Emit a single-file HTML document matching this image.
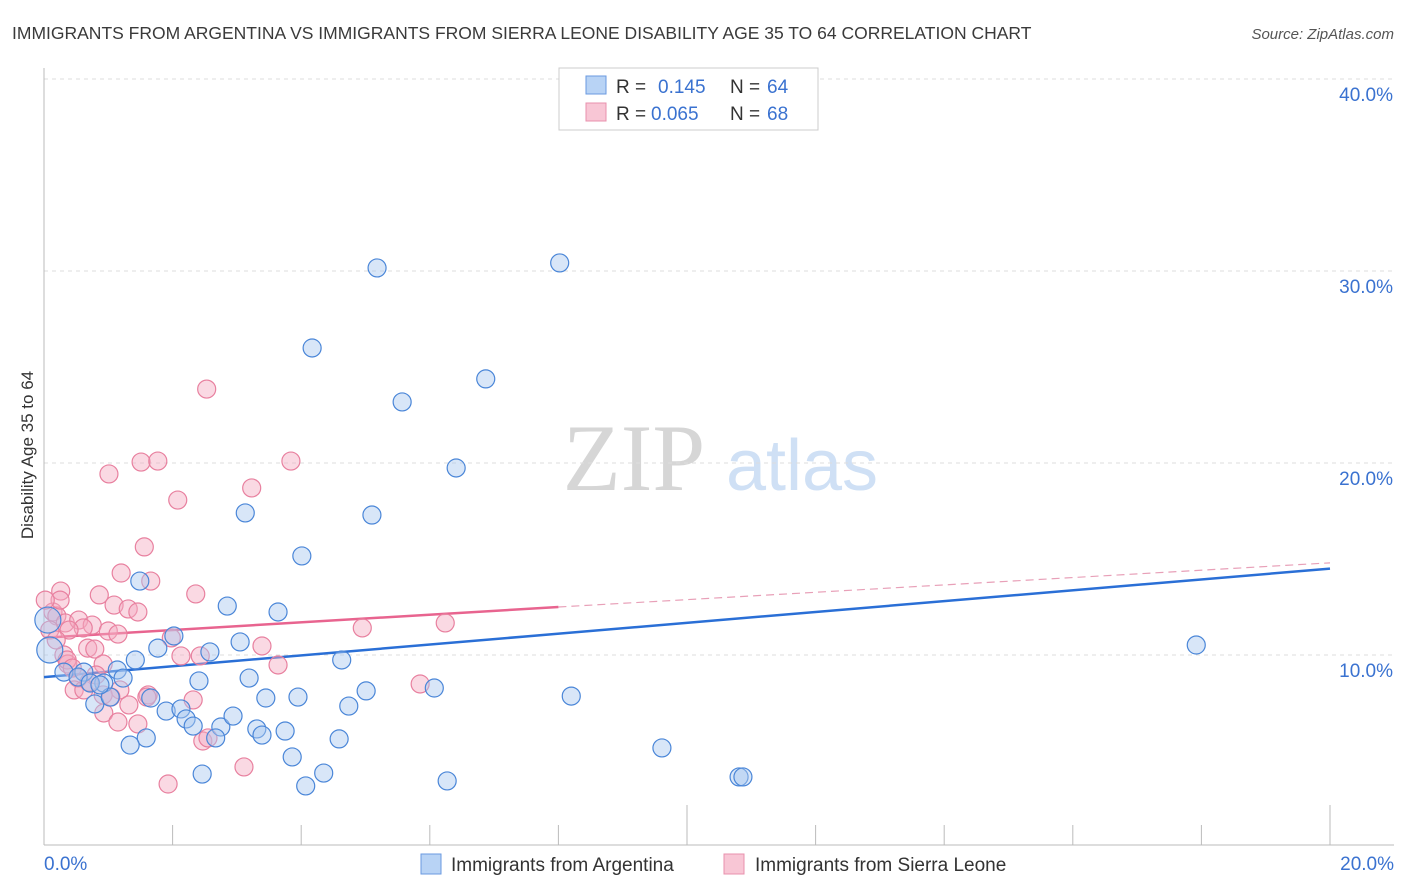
<!DOCTYPE html>
<html><head><meta charset="utf-8"><style>
body{margin:0;background:#fff;font-family:"Liberation Sans",sans-serif;}
svg{display:block}
</style></head><body>
<svg id="chart" width="1406" height="892" xmlns="http://www.w3.org/2000/svg" font-family="Liberation Sans, sans-serif">
<text x="12" y="39" font-size="17.5" fill="#3a3a3a">IMMIGRANTS FROM ARGENTINA VS IMMIGRANTS FROM SIERRA LEONE DISABILITY AGE 35 TO 64 CORRELATION CHART</text>
<text x="1394" y="39" font-size="15" fill="#555" text-anchor="end" font-style="italic">Source: ZipAtlas.com</text>
<text transform="translate(33,455) rotate(-90)" font-size="17" fill="#333" text-anchor="middle">Disability Age 35 to 64</text>
<g>
<text x="634" y="490" font-size="95" fill="#d6d6d6" text-anchor="middle" font-family="Liberation Serif, serif">ZIP</text>
<text x="802" y="490" font-size="72" fill="#cfe0f5" text-anchor="middle">atlas</text>
</g>
<g id="grid"></g>
<g id="axes"></g>
<g id="lines"></g>
<g id="points"></g>
<g>
<rect x="559" y="68" width="259" height="62" fill="#fff" stroke="#ccc"/>
<rect x="586" y="76" width="20" height="18" fill="#b8d3f5" stroke="#6a9ae0"/>
<text x="616" y="93" font-size="19" fill="#333">R = </text><text x="658" y="93" font-size="19" fill="#3a72d0">0.145</text>
<text x="730" y="93" font-size="19" fill="#333">N = </text><text x="767" y="93" font-size="19" fill="#3a72d0">64</text>
<rect x="586" y="103" width="20" height="18" fill="#f8c6d5" stroke="#e890ad"/>
<text x="616" y="120" font-size="19" fill="#333">R = </text><text x="651" y="120" font-size="19" fill="#3a72d0">0.065</text>
<text x="730" y="120" font-size="19" fill="#333">N = </text><text x="767" y="120" font-size="19" fill="#3a72d0">68</text>
</g>
<g>
<rect x="421" y="854" width="20" height="20" fill="#b8d3f5" stroke="#6a9ae0"/>
<text x="451" y="871" font-size="19" fill="#333">Immigrants from Argentina</text>
<rect x="724" y="854" width="20" height="20" fill="#f8c6d5" stroke="#e890ad"/>
<text x="755" y="871" font-size="19" fill="#333">Immigrants from Sierra Leone</text>
</g>
</svg>
<script>
const blueX=[5.18,8.02,4.17,6.87,5.57,6.41,3.13,5.10,4.01,1.49,2.85,3.64,2.02,3.05,1.77,2.58,17.92,4.63,1.42,1.14,0.31,0.62,0.53,0.93,1.23,3.19,2.41,5.01,6.07,8.20,3.45,3.95,0.79,1.03,1.66,1.90,2.13,4.74,2.21,2.32,2.75,2.94,3.31,3.75,3.39,2.67,1.59,1.34,4.59,9.61,3.86,2.46,4.35,6.27,4.07,10.81,10.87,0.06,0.09,0.72,0.87];
const blueY=[30.16,30.42,25.99,24.38,23.18,19.74,17.40,17.29,15.16,13.85,12.55,12.24,10.99,10.68,10.36,10.16,10.52,9.74,9.74,9.22,9.11,9.11,8.85,8.54,8.80,8.80,8.65,8.13,8.28,7.86,7.76,7.81,7.45,7.81,7.76,7.08,7.19,7.34,6.67,6.30,6.25,6.82,6.15,6.04,5.83,5.68,5.68,5.31,5.63,5.16,4.69,3.80,3.85,3.44,3.18,3.65,3.65,11.82,10.26,8.54,8.44];
const pinkX=[2.53,1.51,1.77,3.84,1.01,3.23,2.08,1.56,0.26,1.20,1.66,0.86,2.36,1.09,1.31,1.46,0.14,0.20,0.33,0.54,0.75,1.00,1.15,0.09,0.61,0.39,4.95,6.24,3.39,1.98,0.68,0.79,2.13,2.43,0.31,0.37,3.64,0.92,0.53,0.47,0.62,1.18,0.70,0.92,1.62,1.60,2.32,1.32,5.85,1.04,0.93,1.15,1.46,2.47,3.11,1.93,2.55,0.36,0.44,0.81,0.25,0.19,0.02];
const pinkY=[23.85,20.05,20.10,20.10,19.43,18.70,18.07,15.63,13.33,14.27,13.85,13.13,13.18,12.60,12.40,12.24,12.24,12.03,11.67,11.82,11.56,11.25,11.09,11.30,11.41,11.30,11.41,11.67,10.47,10.89,10.36,10.31,9.95,9.95,10.00,9.53,9.48,9.53,8.80,8.18,8.18,8.18,8.59,7.92,7.92,7.81,7.66,7.40,8.49,7.81,6.98,6.51,6.41,5.52,4.17,3.28,5.68,9.74,9.32,8.96,12.86,10.78,12.86];
const yTicks=[10,20,30,40];
const yTickLabels=["10.0%","20.0%","30.0%","40.0%"];
const xTicks=[0,2,4,6,8,10,12,14,16,18,20];
const xTickLabels=["0.0%","20.0%"];
const blueTrend=[8.85,14.5];
const pinkTrend=[10.9,12.5,14.8];
const NS="http://www.w3.org/2000/svg";
const sx=v=>44+v*64.3, sy=v=>847-v*19.2;
function mk(t,a,p){const e=document.createElementNS(NS,t);for(const k in a)e.setAttribute(k,a[k]);p.appendChild(e);return e;}
const grid=document.getElementById('grid'),axes=document.getElementById('axes'),lines=document.getElementById('lines'),pts=document.getElementById('points');
yTicks.forEach((v,i)=>{
 const l=mk('line',{x1:44,x2:1394,y1:sy(v),y2:sy(v),stroke:'#ddd','stroke-dasharray':'4,4'},grid);
 
 
 const t=mk('text',{x:1393,y:sy(v)+22,'font-size':19,fill:'#3a72d0','text-anchor':'end'},axes);
 t.textContent=yTickLabels[i];
 
 
});
const ya=mk('line',{x1:44,x2:44,y1:68,y2:845,stroke:'#bbb'},axes);


const xa=mk('line',{x1:44,x2:1394,y1:845,y2:845,stroke:'#bbb'},axes);


xTicks.forEach(v=>{
 const tall=(v===10||v===20);
 const l=mk('line',{x1:sx(v),x2:sx(v),y1:tall?805:825,y2:845,stroke:'#bbb'},axes);
 
 
});
[[0,'start',44],[20,'end',1394]].forEach((o,i)=>{
 const t=mk('text',{x:o[2],y:870,'font-size':19,fill:'#3a72d0','text-anchor':o[1]},axes);
 t.textContent=xTickLabels[i];
 
 
});
function dot(x,y,fill,stroke,name,r){
 const c=mk('circle',{cx:sx(x),cy:sy(y),r:r,fill:fill,'fill-opacity':0.45,stroke:stroke,'stroke-width':1.2},pts);
 
 
}
pinkX.forEach((x,i)=>dot(x,pinkY[i],'#f5aac2','#e8809f','point-sierra-leone',9));
blueX.forEach((x,i)=>dot(x,blueY[i],'#a9c8f0','#4a86d8','point-argentina',(i>=57&&i<=58)?13:9));
const bl=mk('line',{x1:sx(0),y1:sy(blueTrend[0]),x2:sx(20),y2:sy(blueTrend[1]),stroke:'#2a6fd6','stroke-width':2.5},lines);


const pl=mk('line',{x1:sx(0),y1:sy(pinkTrend[0]),x2:sx(8),y2:sy(pinkTrend[1]),stroke:'#e8648f','stroke-width':2.5},lines);


const pd=mk('line',{x1:sx(8),y1:sy(pinkTrend[1]),x2:sx(20),y2:sy(pinkTrend[2]),stroke:'#e8a0b8','stroke-width':1.2,'stroke-dasharray':'8,5'},lines);


</script>
</body></html>
